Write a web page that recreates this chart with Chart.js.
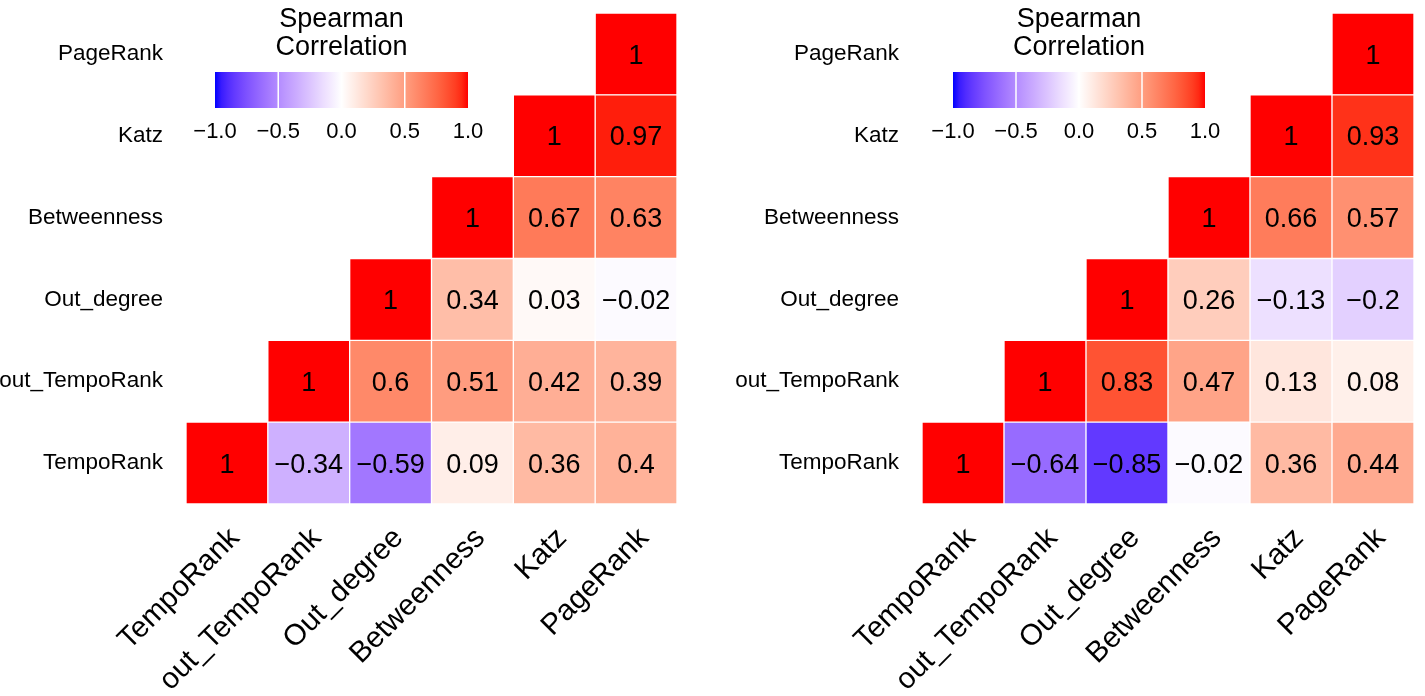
<!DOCTYPE html>
<html><head><meta charset="utf-8">
<script src="https://cdn.jsdelivr.net/npm/chart.js@4.4.0/dist/chart.umd.min.js"></script>
<style>
html,body{margin:0;padding:0;background:#fff;}
#wrap{position:relative;width:1425px;height:696px;overflow:hidden;background:#fff;}
canvas{position:absolute;top:0;}
</style></head><body>
<div id="wrap">
<canvas id="left" width="712" height="696" style="left:0"></canvas>
<canvas id="right" width="713" height="696" style="left:712px"></canvas>
</div>
<script>
// Variables (columns left→right, rows bottom→top)
const variables = ['TempoRank', 'out_TempoRank', 'Out_degree', 'Betweenness', 'Katz', 'PageRank'];

// Left panel: one array per row (bottom → top); null = empty cell
const leftTempoRank     = [1, -0.34, -0.59, 0.09, 0.36, 0.4];
const leftOutTempoRank  = [null, 1, 0.6, 0.51, 0.42, 0.39];
const leftOutDegree     = [null, null, 1, 0.34, 0.03, -0.02];
const leftBetweenness   = [null, null, null, 1, 0.67, 0.63];
const leftKatz          = [null, null, null, null, 1, 0.97];
const leftPageRank      = [null, null, null, null, null, 1];

// Right panel
const rightTempoRank    = [1, -0.64, -0.85, -0.02, 0.36, 0.44];
const rightOutTempoRank = [null, 1, 0.83, 0.47, 0.13, 0.08];
const rightOutDegree    = [null, null, 1, 0.26, -0.13, -0.2];
const rightBetweenness  = [null, null, null, 1, 0.66, 0.57];
const rightKatz         = [null, null, null, null, 1, 0.93];
const rightPageRank     = [null, null, null, null, null, 1];

// Colour bar
const colorbarTitle = ['Spearman', 'Correlation'];
const colorbarTicks = [-1, -0.5, 0, 0.5, 1];
const colorbarTickLabels = ['\u22121.0', '\u22120.5', '0.0', '0.5', '1.0'];

const FONT = '"Liberation Sans", Arial, Helvetica, sans-serif';
Chart.defaults.font.family = FONT;

// ---- Lab colour interpolation (like ggplot's scale_fill_gradient2) ----
function toLin(c){c/=255;return c<=0.04045?c/12.92:Math.pow((c+0.055)/1.055,2.4);}
function toSrgb(c){const v=c<=0.0031308?12.92*c:1.055*Math.pow(c,1/2.4)-0.055;return Math.round(Math.max(0,Math.min(1,v))*255);}
const Xn=0.95047,Yn=1,Zn=1.08883;
function rgbToLab(rgb){
  const R=toLin(rgb[0]),G=toLin(rgb[1]),B=toLin(rgb[2]);
  const X=(0.4124564*R+0.3575761*G+0.1804375*B)/Xn;
  const Y=(0.2126729*R+0.7151522*G+0.0721750*B)/Yn;
  const Z=(0.0193339*R+0.1191920*G+0.9503041*B)/Zn;
  const f=t=>t>0.008856?Math.cbrt(t):7.787*t+16/116;
  const fx=f(X),fy=f(Y),fz=f(Z);
  return [116*fy-16,500*(fx-fy),200*(fy-fz)];
}
function labToRgb(lab){
  const fy=(lab[0]+16)/116,fx=fy+lab[1]/500,fz=fy-lab[2]/200;
  const fi=t=>{const t3=t*t*t;return t3>0.008856?t3:(t-16/116)/7.787;};
  const X=Xn*fi(fx),Y=Yn*fi(fy),Z=Zn*fi(fz);
  const R=3.2404542*X-1.5371385*Y-0.4985314*Z;
  const G=-0.9692660*X+1.8760108*Y+0.0415560*Z;
  const B=0.0556434*X-0.2040259*Y+1.0572252*Z;
  return [toSrgb(R),toSrgb(G),toSrgb(B)];
}
const LAB_LOW=rgbToLab([0,0,255]), LAB_MID=rgbToLab([255,255,255]), LAB_HIGH=rgbToLab([255,0,0]);
function corrColor(v){
  const end = v>=0?LAB_HIGH:LAB_LOW;
  const t=Math.min(1,Math.abs(v));
  const lab=[0,1,2].map(i=>LAB_MID[i]+(end[i]-LAB_MID[i])*t);
  const c=labToRgb(lab);
  return 'rgb('+c[0]+','+c[1]+','+c[2]+')';
}
function fmt(v){ return String(v).replace('-', '\u2212'); }

// ---- plugins ----
const cellLabelPlugin = {
  id: 'cellLabels',
  afterDatasetsDraw(chart){
    const ctx=chart.ctx;
    ctx.save();
    ctx.font='27px '+FONT;
    ctx.fillStyle='#000';
    ctx.textAlign='center';
    ctx.textBaseline='alphabetic';
    chart.data.datasets.forEach((ds,di)=>{
      const meta=chart.getDatasetMeta(di);
      meta.data.forEach((el,j)=>{
        const v=ds.corr[j];
        if(v===null||v===undefined) return;
        const p=el.getCenterPoint();
        ctx.fillText(fmt(v), p.x, p.y+27*0.36);
      });
    });
    ctx.restore();
  }
};

function colorbarPlugin(cb){
  return {
    id:'colorbar',
    afterDraw(chart){
      const ctx=chart.ctx;
      const x0=cb.left, x1=cb.left+cb.width, y0=cb.top, h=cb.height;
      const pos=v=>x0+(v-colorbarTicks[0])/(colorbarTicks[colorbarTicks.length-1]-colorbarTicks[0])*(x1-x0);
      ctx.save();
      const g=ctx.createLinearGradient(x0,0,x1,0);
      for(let i=0;i<=40;i++){ const v=-1+i/20; g.addColorStop(i/40, corrColor(v)); }
      ctx.fillStyle=g;
      ctx.fillRect(x0,y0,x1-x0,h);
      ctx.strokeStyle='#fff'; ctx.lineWidth=1.5;
      colorbarTicks.forEach(v=>{
        if(v===colorbarTicks[0]||v===colorbarTicks[colorbarTicks.length-1]) return;
        const x=pos(v);
        ctx.beginPath(); ctx.moveTo(x,y0); ctx.lineTo(x,y0+h); ctx.stroke();
      });
      ctx.fillStyle='#000';
      ctx.textAlign='center'; ctx.textBaseline='alphabetic';
      ctx.font='22px '+FONT;
      colorbarTicks.forEach((v,i)=>ctx.fillText(colorbarTickLabels[i], pos(v), cb.tickBaseline));
      ctx.font='27px '+FONT;
      const cx=(x0+x1)/2;
      colorbarTitle.forEach((t,i)=>ctx.fillText(t, cx, cb.titleBaseline+i*28));
      ctx.restore();
    }
  };
}

function makeChart(canvasId, rowsData, layout, cb){
  const datasets=rowsData.map((row,r)=>({
    data: row.map(v=>v===null?null:[r, r+1]),
    corr: row,
    backgroundColor: row.map(v=>v===null?'rgba(0,0,0,0)':corrColor(v)),
    borderColor:'#fff',
    borderWidth:1,
    borderSkipped:false,
    grouped:false,
    barPercentage:1,
    categoryPercentage:1
  }));
  return new Chart(document.getElementById(canvasId), {
    type:'bar',
    data:{ labels: variables, datasets },
    options:{
      responsive:false, animation:false, devicePixelRatio:1,
      layout:{ autoPadding:false, padding:{ left:0, right:layout.right, top:13, bottom:0 } },
      plugins:{ legend:{display:false}, tooltip:{enabled:false} },
      scales:{
        x:{
          type:'category', offset:true,
          grid:{display:false, drawTicks:false}, border:{display:false},
          ticks:{ color:'#000', font:{size:29.5}, minRotation:45, maxRotation:45, autoSkip:false,
                  padding:17, labelOffset:8 },
          afterFit(s){ s.height=192; s.paddingLeft=0; s.paddingRight=0; s.paddingTop=0; s.paddingBottom=0; }
        },
        y:{
          type:'linear', min:0, max:variables.length,
          grid:{display:false, drawTicks:false}, border:{display:false},
          afterBuildTicks(s){ s.ticks=variables.map((_,i)=>({value:i+0.5})); },
          ticks:{ color:'#000', font:{size:22.5}, padding:23, autoSkip:false,
                  callback:(value)=>variables[Math.round(value-0.5)] },
          afterFit(s){ s.width=layout.yWidth; s.paddingTop=0; s.paddingBottom=0; s.paddingLeft=0; s.paddingRight=0; }
        }
      }
    },
    plugins:[cellLabelPlugin, colorbarPlugin(cb)]
  });
}

makeChart('left',
  [leftTempoRank, leftOutTempoRank, leftOutDegree, leftBetweenness, leftKatz, leftPageRank],
  {yWidth:186, right:35},
  {left:215, width:253, top:72, height:36, tickBaseline:138, titleBaseline:27});
makeChart('right',
  [rightTempoRank, rightOutTempoRank, rightOutDegree, rightBetweenness, rightKatz, rightPageRank],
  {yWidth:210, right:11},
  {left:241, width:252, top:72, height:36, tickBaseline:138, titleBaseline:27});
</script>
</body></html>
